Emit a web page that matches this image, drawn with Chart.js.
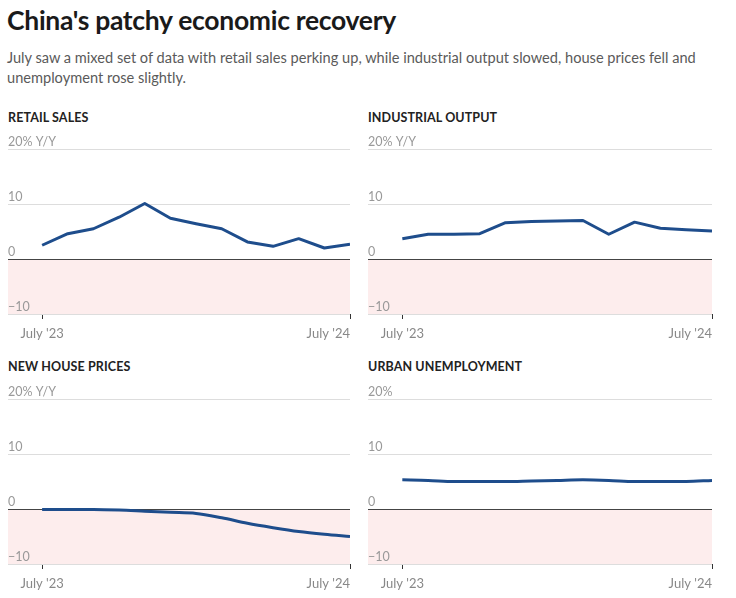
<!DOCTYPE html>
<html>
<head>
<meta charset="utf-8">
<script src="https://cdn.jsdelivr.net/npm/chart.js@4"></script>
<style>
  body { margin: 0; background: #fff; font-family: Lato, "Noto Sans", sans-serif; }
  #wrap { position: relative; width: 736px; height: 598px; overflow: hidden; }
  h1 { position: absolute; left: 7px; top: 4px; margin: 0; font-size: 26.5px; font-weight: 700; color: #1a1a1a; letter-spacing: -0.3px; white-space: nowrap; }
  .sub { position: absolute; left: 7px; top: 48px; margin: 0; font-size: 14.6px; line-height: 20px; color: #5a5a5a; white-space: nowrap; }
  .ptitle { position: absolute; font-size: 12.5px; font-weight: 700; color: #222; letter-spacing: 0.1px; }
  canvas { position: absolute; }
</style>
</head>
<body>
<div id="wrap">
  <h1 id="title">China's patchy economic recovery</h1>
  <p class="sub">July saw a mixed set of data with retail sales perking up, while industrial output slowed, house prices fell and<br>unemployment rose slightly.</p>

  <div class="ptitle" style="left:8px;top:110px">RETAIL SALES</div>
  <div class="ptitle" style="left:368px;top:110px">INDUSTRIAL OUTPUT</div>
  <div class="ptitle" style="left:8px;top:359px">NEW HOUSE PRICES</div>
  <div class="ptitle" style="left:368px;top:359px">URBAN UNEMPLOYMENT</div>

  <canvas id="c1" style="left:0;top:128px"></canvas>
  <canvas id="c2" style="left:360px;top:128px"></canvas>
  <canvas id="c3" style="left:0;top:378px"></canvas>
  <canvas id="c4" style="left:360px;top:378px"></canvas>
</div>
<script>
// months July 2023 .. July 2024
const months = ["Jul '23", "Aug", "Sep", "Oct", "Nov", "Dec", "Jan '24", "Feb", "Mar", "Apr", "May", "Jun", "Jul '24"];
const xTickLabels = ["July '23", "July '24"];
const yTicks = [-10, 0, 10, 20];

const retailSales = [2.5, 4.6, 5.5, 7.6, 10.1, 7.4, 6.4, 5.5, 3.1, 2.3, 3.7, 2.0, 2.7];
const industrialOutput = [3.7, 4.5, 4.5, 4.6, 6.6, 6.8, 6.9, 7.0, 4.5, 6.7, 5.6, 5.3, 5.1];
const housePrices = [-0.1, -0.1, -0.1, -0.2, -0.4, -0.6, -0.8, -1.6, -2.6, -3.4, -4.1, -4.6, -5.0];
const unemployment = [5.3, 5.2, 5.0, 5.0, 5.0, 5.1, 5.2, 5.3, 5.2, 5.0, 5.0, 5.0, 5.2];

const LINE = '#1e4d8c';
const PINK = '#fdeded';
const GREY_TEXT = '#999';

const negBand = {
  id: 'negBand',
  beforeDraw(chart) {
    const { ctx, chartArea, scales } = chart;
    const y0 = scales.y.getPixelForValue(0);
    const y1 = scales.y.getPixelForValue(-10);
    ctx.save();
    ctx.fillStyle = PINK;
    ctx.fillRect(chartArea.left, y0, chartArea.right - chartArea.left, y1 - y0);
    ctx.restore();
  }
};

const xLabels = {
  id: 'xLabels',
  afterDraw(chart) {
    const { ctx, chartArea, scales } = chart;
    ctx.save();
    ctx.font = '13px Lato, "Noto Sans", sans-serif';
    ctx.fillStyle = '#888';
    ctx.textBaseline = 'middle';
    ctx.textAlign = 'center';
    ctx.fillText(xTickLabels[0], scales.x.getPixelForValue(0), chartArea.bottom + 20);
    ctx.textAlign = 'right';
    ctx.fillText(xTickLabels[1], scales.x.getPixelForValue(months.length - 1), chartArea.bottom + 20);
    ctx.restore();
  }
};

function makeChart(id, values, topLabel, padRight, smooth) {
  const el = document.getElementById(id);
  el.width = id === 'c1' || id === 'c3' ? 368 : 376;
  el.height = 220;
  return new Chart(el, {
    type: 'line',
    data: {
      datasets: [{
        data: values.map((v, i) => ({ x: i, y: v })),
        borderColor: LINE,
        borderWidth: 3,
        pointRadius: 0,
        fill: false,
        tension: smooth ? 0.4 : 0,
        cubicInterpolationMode: smooth ? 'monotone' : 'default',
        borderJoinStyle: 'round'
      }]
    },
    options: {
      responsive: false,
      animation: false,
      layout: { padding: { left: 8, right: padRight, top: 21, bottom: 0 } },
      plugins: { legend: { display: false }, tooltip: { enabled: false } },
      scales: {
        x: {
          type: 'linear',
          min: -1.33,
          max: months.length - 1,
          afterBuildTicks: s => { s.ticks = [{ value: 0 }, { value: months.length - 1 }]; },
          afterFit: s => { s.height = 34; },
          grid: { drawOnChartArea: false, drawTicks: true, tickLength: 5, color: '#333', lineWidth: 1 },
          border: { display: false },
          ticks: { display: false }
        },
        y: {
          min: -10,
          max: 20,
          afterBuildTicks: s => { s.ticks = yTicks.map(v => ({ value: v })); },
          afterFit: s => { s.width = 0; },
          grid: {
            drawTicks: false,
            color: c => c.tick && c.tick.value === 0 ? '#444' : '#ddd',
            lineWidth: 1
          },
          border: { display: false },
          ticks: {
            mirror: true,
            padding: 0,
            labelOffset: -7,
            color: GREY_TEXT,
            font: { family: 'Lato, "Noto Sans", sans-serif', size: 12.5 },
            callback: v => v === 20 ? topLabel : (v < 0 ? '\u2212' + Math.abs(v) : String(v))
          }
        }
      }
    },
    plugins: [negBand, xLabels]
  });
}

makeChart('c1', retailSales, '20% Y/Y', 18, false);
makeChart('c2', industrialOutput, '20% Y/Y', 24, false);
makeChart('c3', housePrices, '20% Y/Y', 18, true);
makeChart('c4', unemployment, '20%', 24, true);
</script>
</body>
</html>
